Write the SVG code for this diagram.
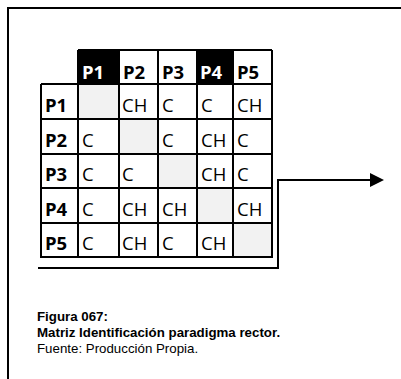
<svg xmlns="http://www.w3.org/2000/svg" width="401" height="379" viewBox="0 0 401 379">
<style>
.t{font-family:"Open Sans","Liberation Sans",sans-serif;font-size:18.5px;fill:#000}
.b{font-weight:bold}
.w{fill:#fff}
.ln{stroke:#000;stroke-width:2;fill:none}
.gr{fill:#f2f2f2}
.cap{font-family:"Liberation Sans",Arial,sans-serif;font-size:13.3px;fill:#000}
</style>
<defs>
<marker id="ah" viewBox="0 0 14 14" refX="0" refY="7" markerWidth="14" markerHeight="14" markerUnits="userSpaceOnUse" orient="auto">
<path d="M0,0 L14,7 L0,14 Z" fill="#000"/>
</marker>
</defs>
<rect width="401" height="379" fill="#fff"/>
<g id="frame">
<path class="ln" d="M8,379 V8 H401"/>
</g>
<g id="header">
<rect x="78" y="50" width="41" height="34" fill="#000"/>
<rect x="197" y="50" width="36" height="34" fill="#000"/>
<text class="t b w" x="82" y="79">P1</text>
<text class="t b" x="123" y="79">P2</text>
<text class="t b" x="162" y="79">P3</text>
<text class="t b w" x="200" y="79">P4</text>
<text class="t b" x="237" y="79">P5</text>
</g>
<g id="shaded">
<rect class="gr" x="78" y="84" width="41" height="35"/>
<rect class="gr" x="119" y="119" width="39" height="35"/>
<rect class="gr" x="158" y="154" width="39" height="34"/>
<rect class="gr" x="197" y="188" width="36" height="35"/>
<rect class="gr" x="233" y="223" width="39" height="34"/>
</g>
<g id="gridlines">
<path class="ln" d="M78,50 H272 M41,84 H272 M41,119 H272 M41,154 H272 M41,188 H272 M41,223 H272 M41,257 H272"/>
<path class="ln" d="M41,84 V258 M78,50 V258 M119,50 V258 M158,50 V258 M197,50 V258 M233,50 V258 M272,50 V258"/>
</g>
<g id="row-P1">
<text class="t b" x="45" y="112">P1</text>
<text class="t" x="122" y="112">CH</text>
<text class="t" x="162" y="112">C</text>
<text class="t" x="201" y="112">C</text>
<text class="t" x="237" y="112">CH</text>
</g>
<g id="row-P2">
<text class="t b" x="45" y="147">P2</text>
<text class="t" x="82" y="147">C</text>
<text class="t" x="162" y="147">C</text>
<text class="t" x="201" y="147">CH</text>
<text class="t" x="237" y="147">C</text>
</g>
<g id="row-P3">
<text class="t b" x="45" y="181">P3</text>
<text class="t" x="82" y="181">C</text>
<text class="t" x="122" y="181">C</text>
<text class="t" x="201" y="181">CH</text>
<text class="t" x="237" y="181">C</text>
</g>
<g id="row-P4">
<text class="t b" x="45" y="216">P4</text>
<text class="t" x="82" y="216">C</text>
<text class="t" x="122" y="216">CH</text>
<text class="t" x="162" y="216">CH</text>
<text class="t" x="237" y="216">CH</text>
</g>
<g id="row-P5">
<text class="t b" x="45" y="250">P5</text>
<text class="t" x="82" y="250">C</text>
<text class="t" x="122" y="250">CH</text>
<text class="t" x="162" y="250">C</text>
<text class="t" x="201" y="250">CH</text>
</g>
<g id="connectors">
<path class="ln" d="M38,268 H278 V180 H370" marker-end="url(#ah)"/>
</g>
<g id="caption">
<text class="cap b" x="37" y="321">Figura 067:</text>
<text class="cap b" x="37" y="337">Matriz Identificación paradigma rector.</text>
<text class="cap" x="37" y="353">Fuente: Producción Propia.</text>
</g>
</svg>
